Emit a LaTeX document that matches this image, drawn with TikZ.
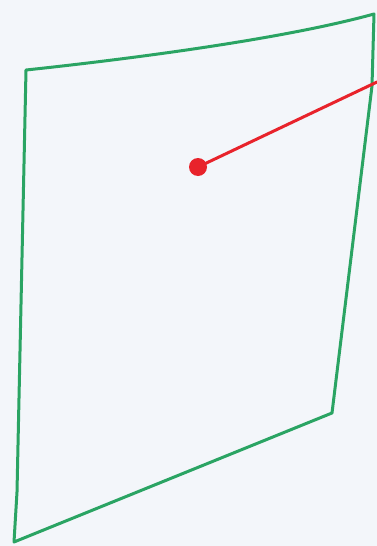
\documentclass[tikz,border=0pt]{standalone}
\definecolor{bg}{HTML}{F3F6FA}
\definecolor{pen}{HTML}{2AA463}
\definecolor{redpen}{HTML}{E8232B}
\tikzset{
  greenline/.style={draw=pen, line width=3pt, line join=round, line cap=round},
  redline/.style={draw=redpen, line width=3pt, line cap=round},
  dot/.style={circle, fill=redpen, inner sep=0pt, minimum size=18pt}
}
\begin{document}
\begin{tikzpicture}[x=1pt, y=-1pt]
  \fill[bg] (0,0) rectangle (377,546);
  \useasboundingbox (0,0) rectangle (377,546);
  \coordinate (tl) at (26,70);
  \coordinate (tr) at (374,14);
  \coordinate (br) at (332,413);
  \coordinate (bl) at (14,542);
  \coordinate (lk) at (17,492);
  \coordinate (rend) at (377,82);
  \draw[greenline] (tl) .. controls (120,60) and (280,40) .. (tr)
     -- (372,86) -- (br) -- (bl) -- (lk) -- (tl);
  \node[dot] (d) at (198,167) {};
  \draw[redline] (d.center) -- (rend);
\end{tikzpicture}
\end{document}
